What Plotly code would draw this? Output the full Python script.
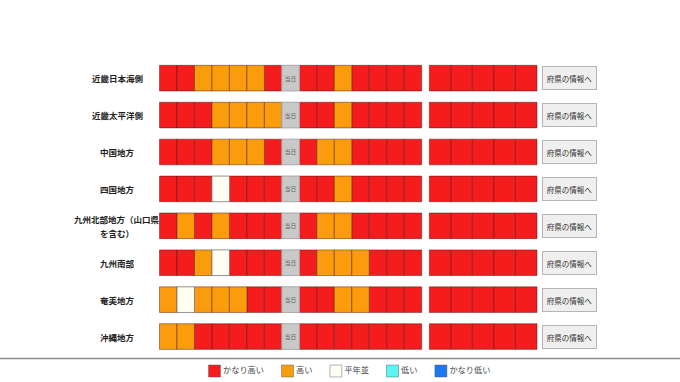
import plotly.graph_objects as go

# ---------------- data ----------------
regions = ["近畿日本海側", "近畿太平洋側", "中国地方", "四国地方",
           "九州北部地方（山口県を含む）", "九州南部", "奄美地方", "沖縄地方"]

# class codes: 2=かなり高い, 1=高い, 0=平年並, -1=低い, -2=かなり低い
days_before = [
    [2, 2, 1, 1, 1, 1, 2],
    [2, 2, 2, 1, 1, 1, 1],
    [2, 2, 2, 1, 1, 1, 2],
    [2, 2, 2, 0, 2, 2, 2],
    [2, 1, 2, 1, 2, 2, 2],
    [2, 2, 1, 0, 2, 2, 2],
    [1, 0, 1, 1, 1, 2, 2],
    [1, 1, 2, 2, 2, 2, 2],
]
days_after = [
    [2, 2, 1, 2, 2, 2, 2],
    [2, 2, 1, 2, 2, 2, 2],
    [2, 1, 1, 2, 2, 2, 2],
    [2, 2, 1, 2, 2, 2, 2],
    [2, 1, 1, 2, 2, 2, 2],
    [2, 1, 1, 1, 2, 2, 2],
    [2, 2, 1, 1, 2, 2, 2],
    [2, 2, 2, 2, 2, 2, 2],
]
week2 = [
    [2, 2, 2, 2, 2],
    [2, 2, 2, 2, 2],
    [2, 2, 2, 2, 2],
    [2, 2, 2, 2, 2],
    [2, 2, 2, 2, 2],
    [2, 2, 2, 2, 2],
    [2, 2, 2, 2, 2],
    [2, 2, 2, 2, 2],
]

class_codes = [2, 1, 0, -1, -2]
class_names = ["かなり高い", "高い", "平年並", "低い", "かなり低い"]
class_colors = ["#F41C1C", "#FA9C0C", "#FFFEF2", "#5CF5F5", "#1A78F0"]

today_label = "当日"
button_label = "府県の情報へ"

# ---------------- layout constants ----------------
W, H = 680, 382
G1_LEFT, G1_CELL = 159.5, 17.48
G2_LEFT, G2_CELL = 429.3, 21.54
LABEL_X = 117
BUTTON_X = 569.5
FONT = "Noto Sans CJK JP, Noto Sans, sans-serif"
BORDER = "rgba(70,20,20,0.45)"

fig = go.Figure()

# collect cells per class
cells = {c: {"base": [], "w": [], "y": []} for c in class_codes}
today = {"base": [], "w": [], "y": []}
for r, name in enumerate(regions):
    seq = days_before[r] + [None] + days_after[r]
    for i, c in enumerate(seq):
        b = G1_LEFT + i * G1_CELL
        if c is None:
            today["base"].append(b); today["w"].append(G1_CELL); today["y"].append(name)
        else:
            cells[c]["base"].append(b); cells[c]["w"].append(G1_CELL); cells[c]["y"].append(name)
    for i, c in enumerate(week2[r]):
        b = G2_LEFT + i * G2_CELL
        cells[c]["base"].append(b); cells[c]["w"].append(G2_CELL); cells[c]["y"].append(name)

for c, nm, col in zip(class_codes, class_names, class_colors):
    d = cells[c]
    line_col = "rgba(120,120,120,0.8)" if c == 0 else BORDER
    fig.add_trace(go.Bar(
        orientation="h", x=d["w"], base=d["base"], y=d["y"], name=nm,
        marker=dict(color=col, line=dict(color=line_col, width=1)),
        width=0.695, showlegend=False, hoverinfo="skip"))

fig.add_trace(go.Bar(
    orientation="h", x=today["w"], base=today["base"], y=today["y"],
    marker=dict(color="#C9C9C9", line=dict(color="#A8A8A8", width=1)),
    width=0.695, showlegend=False, hoverinfo="skip",
    text=[today_label] * len(today["y"]), textposition="inside",
    insidetextanchor="middle", textangle=0,
    textfont=dict(size=7, color="#666666", family=FONT)))

annotations = []
WRAP = 10
for name in regions:
    lines = [name[i:i + WRAP] for i in range(0, len(name), WRAP)]
    n = len(lines)
    for k, ln in enumerate(lines):
        annotations.append(dict(x=LABEL_X, y=name, xref="x", yref="y", text=ln,
                                showarrow=False, xanchor="center", yanchor="middle",
                                yshift=(n - 1) * 7 - k * 14,
                                font=dict(size=8.5, color="#222", family=FONT, weight="bold")))
    annotations.append(dict(x=BUTTON_X, y=name, xref="x", yref="y", text=button_label,
                            showarrow=False, xanchor="center", yanchor="middle",
                            width=49, height=18, borderpad=2,
                            bgcolor="#EFEFEF", bordercolor="#B5B5B5", borderwidth=1,
                            font=dict(size=7.5, color="#333", family=FONT)))

# manual legend below the separator line
LEG_FS = 8.2
leg_x = []
x = 214.5
for nm in class_names:
    leg_x.append(x)
    x += 12 + 6 + len(nm) * LEG_FS + 14
fig.add_trace(go.Scatter(
    x=leg_x, y=[11] * len(class_names), xaxis="x2", yaxis="y2",
    mode="markers+text", text=class_names, textposition="middle right",
    textfont=dict(size=LEG_FS, color="#444", family=FONT),
    marker=dict(symbol="square", size=12, color=class_colors,
                line=dict(color="rgba(90,90,90,0.45)", width=1)),
    showlegend=False, hoverinfo="skip", cliponaxis=False))

fig.update_layout(
    width=W, height=H, margin=dict(l=0, r=0, t=0, b=0),
    paper_bgcolor="white", plot_bgcolor="white",
    barmode="overlay", showlegend=False,
    xaxis=dict(range=[0, W], domain=[0, 1], visible=False, fixedrange=True),
    yaxis=dict(type="category", categoryorder="array", categoryarray=regions,
               range=[len(regions) - 0.5, -0.5], domain=[27 / H, (H - 59.7) / H],
               visible=False, fixedrange=True),
    xaxis2=dict(range=[0, W], domain=[0, 1], anchor="y2", visible=False),
    yaxis2=dict(range=[0, 27], domain=[0, 27 / H], anchor="x2", visible=False),
    annotations=annotations,
    shapes=[dict(type="line", xref="paper", yref="paper", x0=0, x1=1,
                 y0=(H - 358.5) / H, y1=(H - 358.5) / H,
                 line=dict(color="#8c8c8c", width=1.5))],
    font=dict(family=FONT),
)

fig.write_html("out.html", config={"displayModeBar": False},
               post_script="document.body.style.margin='0px';document.body.style.overflow='hidden';")
